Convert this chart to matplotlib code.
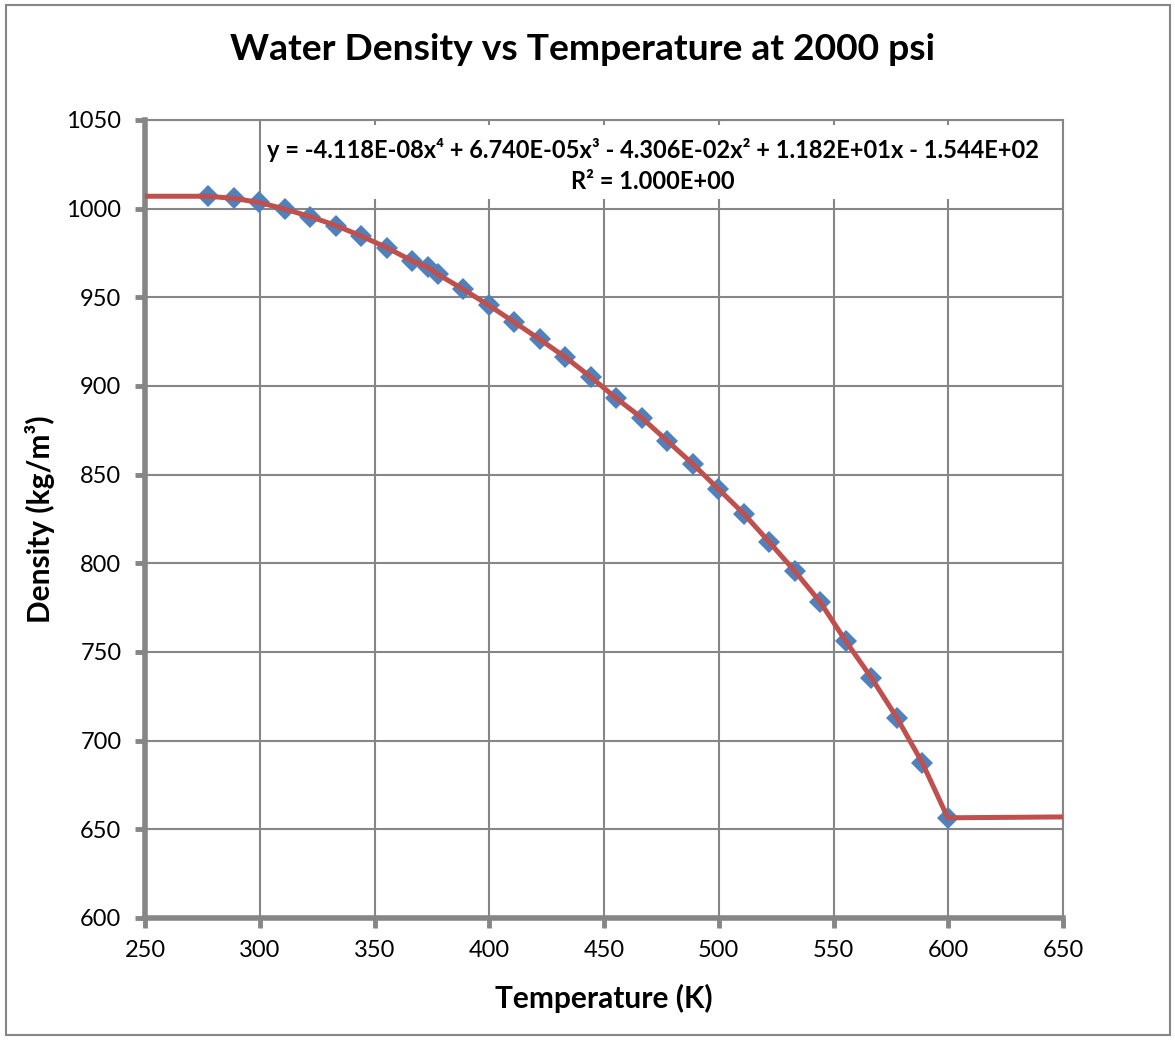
import matplotlib
matplotlib.use("Agg")
import matplotlib.pyplot as plt
from matplotlib.patches import Rectangle

FONT = ["Lato", "DejaVu Sans"]
plt.rcParams["font.family"] = FONT

# tabulated points (K, kg/m^3)
temperature = [277.6, 288.7, 299.8, 310.9, 322.0, 333.2, 344.3, 355.4, 366.5, 373.2,
               377.6, 388.7, 399.8, 410.9, 422.0, 433.2, 444.3, 455.4, 466.5, 477.6,
               488.7, 499.8, 510.9, 522.0, 533.2, 544.3, 555.4, 566.5, 577.6, 588.7,
               599.8]
density = [1007.0, 1005.8, 1003.5, 999.8, 995.5, 990.5, 984.5, 978.0, 970.5, 967.0,
           963.0, 954.5, 945.5, 936.0, 926.3, 916.2, 905.0, 893.0, 882.0, 869.0,
           856.0, 842.0, 828.0, 812.0, 795.5, 778.0, 756.0, 735.5, 713.0, 687.5,
           656.5]

# model curve, held flat outside the table range
curve_temp = [250.0] + temperature + [650.0]
curve_density = [1007.0] + density + [657.0]

eq_line1 = "y = -4.118E-08x\u2074 + 6.740E-05x\u00b3 - 4.306E-02x\u00b2 + 1.182E+01x - 1.544E+02"
eq_line2 = "R\u00b2 = 1.000E+00"

x_ticks = list(range(250, 651, 50))
y_ticks = list(range(600, 1051, 50))

GRAY = "#868686"

fig = plt.figure(figsize=(11.75, 10.4), dpi=100)
ax = fig.add_axes([145 / 1175, 1 - 918 / 1040, 918 / 1175, 798 / 1040])

# chart border
fig.patches.append(Rectangle((6 / 1175, 1 - 1035 / 1040), 1164 / 1175, 1030 / 1040,
                             transform=fig.transFigure, fill=False,
                             edgecolor=GRAY, linewidth=1.5))

ax.set_xlim(250, 650)
ax.set_ylim(600, 1050)
ax.set_xticks(x_ticks)
ax.set_yticks(y_ticks)
ax.set_axisbelow(True)
ax.grid(True, color=GRAY, linewidth=1.5)

for side in ("left", "bottom"):
    ax.spines[side].set_color(GRAY)
    ax.spines[side].set_linewidth(4)
for side in ("top", "right"):
    ax.spines[side].set_color(GRAY)
    ax.spines[side].set_linewidth(1.5)

ax.tick_params(axis="both", direction="out", length=7, width=3.5, color=GRAY,
               labelsize=17, labelcolor="black")
ax.tick_params(axis="y", pad=10)
ax.tick_params(axis="x", pad=9)

# white label background over the grid
ax.add_patch(Rectangle((300.6, 1005.4), 347.5, 41.8, facecolor="white",
                       edgecolor="none", zorder=1))

ax.plot(temperature, density, linestyle="none", marker="D", markersize=11.5,
        color="#4F81BD", markeredgewidth=0, zorder=3)
ax.plot(curve_temp, curve_density, color="#C0504D", linewidth=3.6,
        solid_capstyle="butt", zorder=4)

ax.text(471.4, 1033, eq_line1, ha="center", va="center", fontsize=17,
        fontweight="bold", zorder=5)
ax.text(471.4, 1015.4, eq_line2, ha="center", va="center", fontsize=17,
        fontweight="bold", zorder=5)

ax.set_xlabel("Temperature (K)", fontsize=21.5, fontweight="bold")
ax.set_ylabel("Density (kg/m\u00b3)", fontsize=21.5, fontweight="bold")
ax.xaxis.set_label_coords(0.5, (918 - 998) / 798)
ax.yaxis.set_label_coords((40 - 145) / 918, 0.5)
ax.xaxis.label.set_va("center")
ax.yaxis.label.set_va("center")

fig.text(583 / 1175, 1 - 50 / 1040, "Water Density vs Temperature at 2000 psi",
         ha="center", va="center", fontsize=26.8, fontweight="bold")

fig.savefig("out.png", dpi=100)
